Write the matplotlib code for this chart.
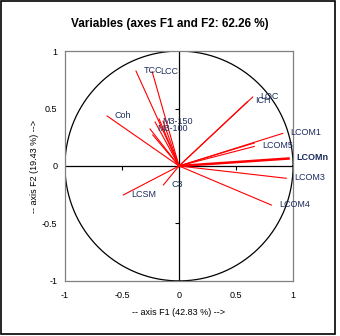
import numpy as np
import matplotlib
matplotlib.use("Agg")
import matplotlib.pyplot as plt
from matplotlib.patches import Rectangle

plt.rcParams['font.family'] = ['Liberation Sans', 'DejaVu Sans']

# correlations of the variables with F1 / F2
names = ['TCC', 'LCC', 'Coh', 'M3-150', 'M3-100', '', '', '',
         'LOC', 'ICH', 'LCOM1', 'LCOM5', '', 'LCOMn', 'LCOM3', 'LCOM4',
         'LCSM', 'C3']
f1 = [-0.377, -0.235, -0.63, -0.21, -0.254, -0.175, -0.14, -0.23,
      0.646, 0.60, 0.91, 0.66, 0.66, 0.96, 0.94, 0.81,
      -0.488, -0.137]
f2 = [0.826, 0.82, 0.435, 0.383, 0.322, 0.41, 0.39, 0.27,
      0.60, 0.56, 0.284, 0.17, 0.20, 0.065, -0.107, -0.34,
      -0.252, -0.165]
bold = ['LCOMn']

title = 'Variables (axes F1 and F2: 62.26 %)'
xlab = '-- axis F1 (42.83 %) -->'
ylab = '-- axis F2 (19.43 %) -->'
ticks = [-1, -0.5, 0, 0.5, 1]

fig = plt.figure(figsize=(3.4, 3.36), dpi=100)
fig.patches.append(Rectangle((0.003, 0.006), 0.982, 0.99, transform=fig.transFigure,
                             fill=False, edgecolor='black', linewidth=1.2))

ax = fig.add_axes([0.191, 0.164, 0.671, 0.684])
ax.set_xlim(-1, 1)
ax.set_ylim(-1, 1)
for s in ax.spines.values():
    s.set_color('#808080')
    s.set_linewidth(0.9)
ax.set_xticks(ticks)
ax.set_yticks(ticks)
ax.set_xticklabels(['-1', '-0.5', '0', '0.5', '1'])
ax.set_yticklabels(['-1', '-0.5', '0', '0.5', '1'])
ax.tick_params(axis='x', length=0, labelsize=6.5, pad=7)
ax.tick_params(axis='y', length=0, labelsize=6.5, pad=5.5)

# centre axes with small ticks
ax.axhline(0, color='black', linewidth=0.9, zorder=1)
ax.axvline(0, color='black', linewidth=0.9, zorder=1)
ax2 = fig.add_axes(ax.get_position(), frameon=True)
ax2.patch.set_visible(False)
ax2.set_xlim(-1, 1)
ax2.set_ylim(-1, 1)
for k in ['top', 'right']:
    ax2.spines[k].set_visible(False)
ax2.spines['left'].set_position(('data', 0))
ax2.spines['bottom'].set_position(('data', 0))
ax2.spines['left'].set_visible(False)
ax2.spines['bottom'].set_visible(False)
ax2.set_xticks([-0.5, 0.5])
ax2.set_yticks([-0.5, 0.5])
ax2.tick_params(length=3, width=0.8, labelleft=False, labelbottom=False)

# correlation circle
t = np.linspace(0, 2 * np.pi, 400)
ax.plot(np.cos(t), np.sin(t), color='black', linewidth=0.9, zorder=2)

for n, x, y in zip(names, f1, f2):
    lw = 1.8 if n in bold else 0.8
    ax.plot([0, x], [0, y], color='red', linewidth=lw, zorder=3)
    if n:
        ax.annotate(n, (x, y), xytext=(5.5, 0.5), textcoords='offset points',
                    ha='left', va='center', fontsize=6.5, color='#1c2c5c',
                    fontweight='bold' if n in bold else 'normal', zorder=4,
                    annotation_clip=False)

fig.text(0.5, 0.93, title, ha='center', va='center', fontsize=8.5,
         fontweight='bold', color='black')
ax.set_xlabel(xlab, fontsize=6.5, labelpad=6)
ax.set_ylabel(ylab, fontsize=6.5, labelpad=2)

fig.savefig('out.png', dpi=100)
